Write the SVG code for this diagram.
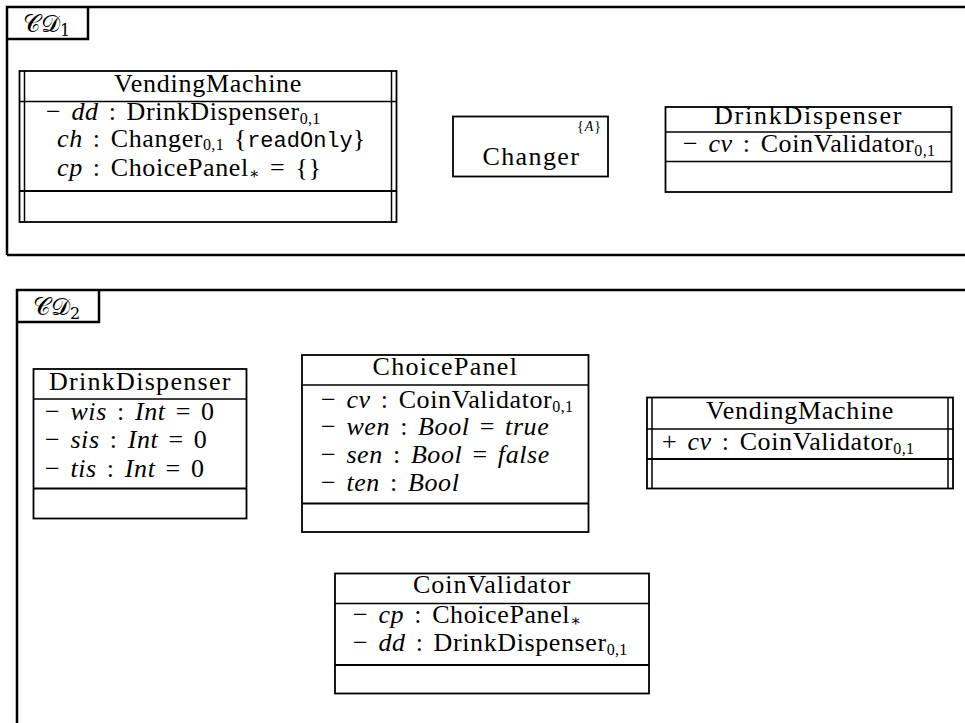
<svg xmlns="http://www.w3.org/2000/svg" width="965" height="723" viewBox="0 0 965 723">
<style>
.t{font-family:"Liberation Serif","DejaVu Serif",serif;font-size:26px;fill:#000;letter-spacing:0.6px;word-spacing:3px}
.c{text-anchor:middle;word-spacing:0}
.i{font-style:italic}
.m{font-family:"Liberation Mono",monospace;font-size:22px;letter-spacing:0}
.s{font-size:16px;letter-spacing:0.3px}
.sup{font-size:14px;letter-spacing:1px}
.box{fill:#fff;stroke:#000;stroke-width:1.8}
.sep{stroke:#000;stroke-width:1.5;fill:none}
.sep2{stroke:#000;stroke-width:2;fill:none}
.frame{fill:none;stroke:#000;stroke-width:2.5}
.cal{font-family:"DejaVu Serif","Noto Sans",serif;font-size:24px;letter-spacing:0}
</style>
<g id="frame1">
<path class="frame" d="M7,255 V7 H965 M7,255 H965"/>
<path class="frame" d="M7,39 H88 V7"/>
<text class="t cal" x="23" y="32">𝒞𝒟<tspan class="s" dy="4">1</tspan></text>
</g>
<g id="frame2">
<path class="frame" d="M17,723 V290 H965"/>
<path class="frame" d="M17,322 H99 V290"/>
<text class="t cal" x="33" y="315">𝒞𝒟<tspan class="s" dy="4">2</tspan></text>
</g>
<g id="connectors"></g>
<g id="VendingMachine1">
<rect class="box" x="19.5" y="71" width="377" height="151"/>
<path class="sep" d="M24.5,71 V222 M391.5,71 V222"/>
<path class="sep" d="M19.5,101.5 H396.5"/>
<path class="sep2" d="M19.5,191 H396.5"/>
<text class="t c" x="208" y="92" textLength="188">VendingMachine</text>
<text class="t" x="46" y="120">− <tspan class="i">dd</tspan> : DrinkDispenser<tspan class="s" dy="4">0,1</tspan></text>
<text class="t" x="57" y="147"><tspan class="i">ch</tspan> : Changer<tspan class="s" dy="3">0,1</tspan><tspan dy="-3"> {</tspan><tspan class="m">readOnly</tspan>}</text>
<text class="t" x="57" y="176"><tspan class="i">cp</tspan> : ChoicePanel<tspan class="s" dy="3">∗</tspan><tspan dy="-3"> = {}</tspan></text>
</g>
<g id="Changer">
<rect class="box" x="453" y="116.5" width="155" height="60"/>
<text class="t c" x="531" y="165" textLength="97">Changer</text>
<text class="t sup" x="577" y="131">{<tspan class="i">A</tspan>}</text>
</g>
<g id="DrinkDispenser1">
<rect class="box" x="665.5" y="107" width="286" height="85"/>
<path class="sep" d="M665.5,132 H951.5"/>
<path class="sep" d="M665.5,161.5 H951.5"/>
<text class="t c" x="808" y="124" textLength="188">DrinkDispenser</text>
<text class="t" x="683" y="152">− <tspan class="i">cv</tspan> : CoinValidator<tspan class="s" dy="4">0,1</tspan></text>
</g>
<g id="DrinkDispenser2">
<rect class="box" x="33.5" y="369" width="213" height="149.5"/>
<path class="sep" d="M33.5,399 H246.5"/>
<path class="sep2" d="M33.5,488.5 H246.5"/>
<text class="t c" x="140" y="390" textLength="182">DrinkDispenser</text>
<text class="t" x="45" y="420">− <tspan class="i">wis</tspan> : <tspan class="i">Int</tspan> = 0</text>
<text class="t" x="45" y="448">− <tspan class="i">sis</tspan> : <tspan class="i">Int</tspan> = 0</text>
<text class="t" x="45" y="477">− <tspan class="i">tis</tspan> : <tspan class="i">Int</tspan> = 0</text>
</g>
<g id="ChoicePanel">
<rect class="box" x="302" y="355" width="286.5" height="177"/>
<path class="sep" d="M302,385 H588.5"/>
<path class="sep2" d="M302,503.5 H588.5"/>
<text class="t c" x="445" y="375" textLength="145">ChoicePanel</text>
<text class="t" x="321" y="408">− <tspan class="i">cv</tspan> : CoinValidator<tspan class="s" dy="4">0,1</tspan></text>
<text class="t" x="321" y="435">− <tspan class="i">wen</tspan> : <tspan class="i">Bool</tspan> = <tspan class="i">true</tspan></text>
<text class="t" x="321" y="463">− <tspan class="i">sen</tspan> : <tspan class="i">Bool</tspan> = <tspan class="i">false</tspan></text>
<text class="t" x="321" y="491">− <tspan class="i">ten</tspan> : <tspan class="i">Bool</tspan></text>
</g>
<g id="VendingMachine2">
<rect class="box" x="647" y="397.5" width="306" height="91"/>
<path class="sep" d="M652,397.5 V488.5 M948,397.5 V488.5"/>
<path class="sep" d="M647,429 H953"/>
<path class="sep2" d="M647,459 H953"/>
<text class="t c" x="800" y="419" textLength="188">VendingMachine</text>
<text class="t" x="662" y="450">+ <tspan class="i">cv</tspan> : CoinValidator<tspan class="s" dy="4">0,1</tspan></text>
</g>
<g id="CoinValidator">
<rect class="box" x="335" y="573.5" width="314" height="120"/>
<path class="sep" d="M335,603.5 H649"/>
<path class="sep2" d="M335,665 H649"/>
<text class="t c" x="492" y="593" textLength="158">CoinValidator</text>
<text class="t" x="353" y="623">− <tspan class="i">cp</tspan> : ChoicePanel<tspan class="s" dy="3">∗</tspan></text>
<text class="t" x="353" y="651">− <tspan class="i">dd</tspan> : DrinkDispenser<tspan class="s" dy="4">0,1</tspan></text>
</g>
</svg>
